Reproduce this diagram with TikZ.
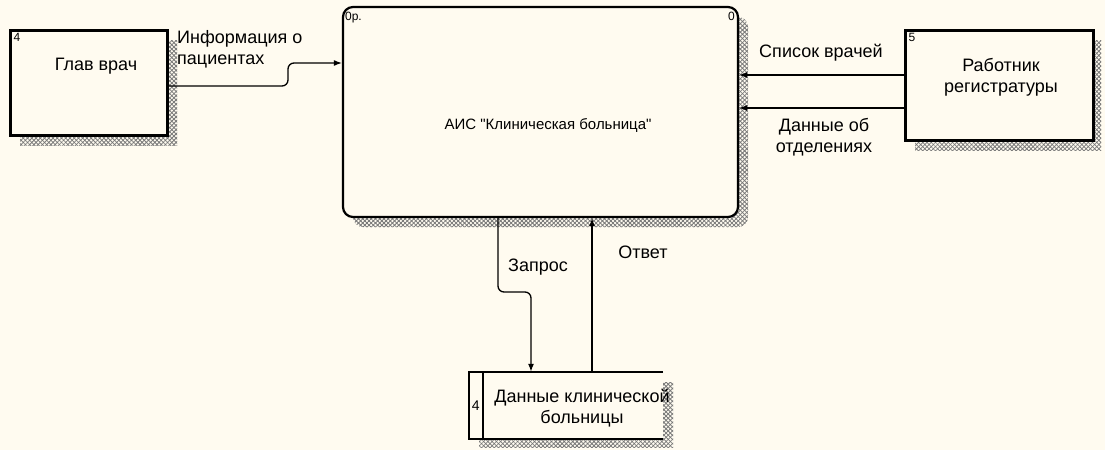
\documentclass[tikz,border=0pt]{standalone}
\usepackage{fontspec}
\setmainfont{Liberation Sans}[Ligatures=TeXOff]
\usetikzlibrary{arrows.meta,patterns.meta,calc}
\definecolor{bg}{HTML}{FFFBF0}
\definecolor{shd}{HTML}{777777}
\begin{document}
\begin{tikzpicture}[x=1pt,y=-1pt,
  every node/.style={font=\fontsize{18}{21}\selectfont, text=black},
  lbl/.style={inner sep=0pt, align=center},
  extbox/.style={rectangle, draw=black, line width=3pt, fill=bg, inner sep=0pt},
  procbox/.style={rectangle, rounded corners=10pt, draw=black, line width=2.2pt, fill=bg, inner sep=0pt},
  storebox/.style={rectangle, fill=bg, inner sep=0pt},
  shadowA/.style={pattern={Lines[angle=45,distance=3pt,line width=0.8pt]}, pattern color=shd},
  shadowB/.style={pattern={Lines[angle=-45,distance=3pt,line width=0.8pt]}, pattern color=shd},
  flow/.style={draw=black, line width=1.3pt, -{Latex[length=8pt,width=6pt]}},
  small/.style={font=\fontsize{12}{14}\selectfont, inner sep=0pt}
]
\useasboundingbox[fill=bg] (0,0) rectangle (1105,450);

% shadows
\foreach \s in {shadowA,shadowB}{
  \fill[\s] (20,40) rectangle (177,145);
  \fill[\s, rounded corners=10pt] (353,17) rectangle (748,227);
  \fill[\s] (915,40) rectangle (1101,150);
  \fill[\s] (479,382) rectangle (673,447);
}

% external entity Главврач
\node[extbox, minimum width=157pt, minimum height=105pt] (glav) at (88.5,82.5) {};
\draw[line width=3pt] ([xshift=2pt]glav.south west) -- ([xshift=2pt,yshift=-2pt]glav.north west) -- ([yshift=-2pt]glav.north east);
\node[small, anchor=north west] (glavnum) at ([xshift=5pt,yshift=-5pt]glav.north west) {4};
\node[lbl] (glavtxt) at (96,66) {Глав врач};

% process
\node[procbox, minimum width=395pt, minimum height=210pt] (main) at (540.5,112) {};
\node[small, anchor=north west] (mainnum) at ([xshift=3pt,yshift=-6pt]main.north west) {0р.};
\node[small, anchor=north east] (mainid) at ([xshift=-4pt,yshift=-6pt]main.north east) {0};
\node[lbl, font=\fontsize{15}{18}\selectfont] (maintxt) at (548,125) {АИС "Клиническая больница"};

% external entity Работник регистратуры
\node[extbox, minimum width=188pt, minimum height=110pt] (rab) at (999,85) {};
\draw[line width=3pt] ([xshift=2pt]rab.south west) -- ([xshift=2pt,yshift=-2pt]rab.north west) -- ([yshift=-2pt]rab.north east);
\node[small, anchor=north west] (rabnum) at ([xshift=5pt,yshift=-5pt]rab.north west) {5};
\node[lbl] (rabtxt) at (1001,77) {Работник\\регистратуры};

% data store
\node[storebox, minimum width=194pt, minimum height=67pt] (store) at (566,405.5) {};
\draw[line width=2pt] (store.north east) -- (store.north west) -- (store.south west) -- (store.south east);
\draw[line width=2pt] ([xshift=14pt]store.north west) -- ([xshift=14pt]store.south west);
\node[small, font=\fontsize{14}{16}\selectfont] (storenum) at ([xshift=7pt]store.west) {4};
\node[lbl] (storetxt) at (582,408) {Данные клинической\\больницы};

% flows
\coordinate (c1) at (288,63);
\draw[flow, rounded corners=6pt] ([yshift=-3.5pt]glav.east) -- (c1 |- 0,86) -- (c1) -- (main.west |- c1);
\node[lbl, align=left, anchor=west] (l1) at (177,49) {Информация о\\пациентах};

\draw[flow] ([yshift=10pt]rab.west) -- (main.east |- 0,75);
\draw[flow] ([yshift=-23pt]rab.west) -- (main.east |- 0,108);
\node[lbl] (l2) at (821,53) {Список врачей};
\node[lbl] (l3) at (824,137) {Данные об\\отделениях};

\coordinate (q1) at (498,292);
\coordinate (q2) at (531,298);
\draw[flow, rounded corners=6pt] (main.south -| q1) -- (q1) -- (q1 -| q2) -- (store.north -| q2);
\node[lbl] (l4) at (538,267) {Запрос};

\coordinate (a1) at (592,300);
\draw[flow] (store.north -| a1) -- (main.south -| a1);
\node[lbl] (l5) at (643,252) {Ответ};
\end{tikzpicture}
\end{document}
